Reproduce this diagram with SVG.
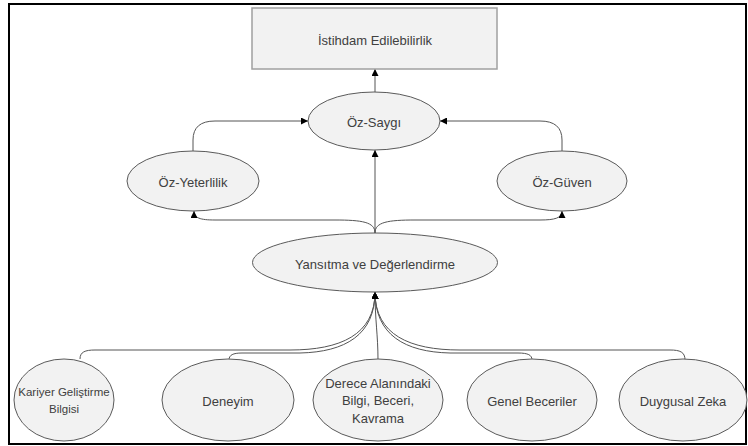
<svg xmlns="http://www.w3.org/2000/svg" width="748" height="446" viewBox="0 0 748 446">
<defs>
<marker id="arr" viewBox="0 0 10 10" refX="10" refY="5" markerWidth="7" markerHeight="7" markerUnits="userSpaceOnUse" orient="auto">
<path d="M0,0 L10,5 L0,10 z" fill="#000"/>
</marker>
<style>
.n{fill:#f2f2f2;stroke:#5a5a5a;stroke-width:1}
.r{fill:#f2f2f2;stroke:#a0a0a0;stroke-width:1.5}
.t{font-family:"Liberation Sans",Arial,sans-serif;font-size:13px;fill:#404040;text-anchor:middle;dominant-baseline:central}
.s{font-size:11.5px}
.c{fill:none;stroke:#555;stroke-width:1;marker-end:url(#arr)}
</style>
</defs>
<rect x="9" y="4" width="737" height="440" fill="#fff" stroke="#000" stroke-width="2"/>
<g id="connectors">
<path class="c" d="M375,92 L375,69"/>
<path class="c" d="M193,151 L193,140 Q193,121 215,121 L308,121"/>
<path class="c" d="M562,151 L562,140 Q562,121 540,121 L440,121"/>
<path class="c" d="M375,233 L375,150"/>
<path class="c" d="M375,233 C375,222 362,220 335,220 L215,220 C200,220 194,218 194,211"/>
<path class="c" d="M375,233 C375,222 388,220 415,220 L540,220 C555,220 562,218 562,211"/>
<path class="c" d="M80,359 C80,352 85,350 95,350 L290,350 C340,350 375,335 375,292"/>
<path class="c" d="M229,360 C229,355 233,353 242,353 L300,353 C345,352 375,335 375,292"/>
<path class="c" d="M378,360 C378,335 375,320 375,292"/>
<path class="c" d="M532,360 C532,355 528,353 518,353 L450,353 C405,352 375,335 375,292"/>
<path class="c" d="M685,360 C685,352 680,350 670,350 L460,350 C410,350 375,335 375,292"/>
</g>
<g id="istihdam"><rect class="r" x="252" y="8" width="245" height="61"/><text class="t" x="375" y="40">İstihdam Edilebilirlik</text></g>
<g id="ozsaygi"><ellipse class="n" cx="374" cy="121" rx="66" ry="29"/><text class="t" x="374" y="122">Öz-Saygı</text></g>
<g id="ozyeterlilik"><ellipse class="n" cx="193" cy="181" rx="66" ry="30"/><text class="t" x="193" y="182">Öz-Yeterlilik</text></g>
<g id="ozguven"><ellipse class="n" cx="562" cy="181" rx="65" ry="30"/><text class="t" x="562" y="182">Öz-Güven</text></g>
<g id="yansitma"><ellipse class="n" cx="375" cy="262.5" rx="122.5" ry="29.5"/><text class="t" x="375" y="264">Yansıtma ve Değerlendirme</text></g>
<g id="kariyer"><ellipse class="n" cx="64" cy="400" rx="50" ry="41"/><text class="t s" x="64" y="392">Kariyer Geliştirme</text><text class="t s" x="64" y="409">Bilgisi</text></g>
<g id="deneyim"><ellipse class="n" cx="228" cy="400" rx="66" ry="41"/><text class="t" x="228" y="401">Deneyim</text></g>
<g id="derece"><ellipse class="n" cx="378" cy="400" rx="65" ry="41"/><text class="t" x="378" y="383">Derece Alanındaki</text><text class="t" x="378" y="400">Bilgi, Beceri,</text><text class="t" x="378" y="418">Kavrama</text></g>
<g id="genel"><ellipse class="n" cx="532" cy="400" rx="65" ry="41"/><text class="t" x="532" y="401">Genel Beceriler</text></g>
<g id="duygusal"><ellipse class="n" cx="683" cy="400" rx="64" ry="41"/><text class="t" x="683" y="401">Duygusal Zeka</text></g>
</svg>
